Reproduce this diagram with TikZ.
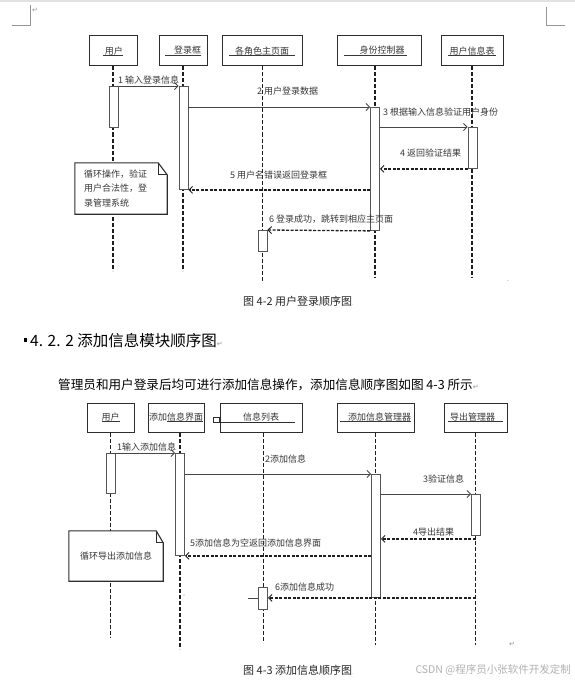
\documentclass[tikz,border=0pt]{standalone}
\usepackage{fontspec}
\setmainfont{Noto Sans CJK SC}
\newfontfamily\markfont{DejaVu Sans}
\usepackage{xcolor}
\definecolor{framegray}{RGB}{45, 45, 45}
\definecolor{bargray}{RGB}{85, 85, 85}
\definecolor{linedark}{RGB}{30, 30, 30}
\definecolor{msggray}{RGB}{70, 70, 70}
\definecolor{textgray}{RGB}{55, 55, 55}
\definecolor{bandgray}{RGB}{226, 226, 226}
\definecolor{markgray}{RGB}{150, 150, 150}
\definecolor{wmgray}{RGB}{178, 178, 178}
\usepackage{tikz}
\usetikzlibrary{arrows.meta, positioning, calc}

\newlength{\objwd}
\newcommand{\objul}[1]{\settowidth{\objwd}{#1}\rlap{#1}\rule[-1.6pt]{\objwd}{0.8pt}}
\newcommand{\parmark}{{\markfont\fontsize{7}{7}\selectfont\color{markgray}↵}}

\begin{document}
\begin{tikzpicture}[x=1pt, y=-1pt, >={Straight Barb[length=3.5pt, width=7pt, line width=0.9pt]},
    objbox/.style={draw=framegray, line width=1pt, fill=white, minimum height=30pt, inner sep=1pt, text=textgray, font=\fontsize{9}{11}\selectfont},
    actbar/.style={draw=bargray, line width=0.9pt, fill=white, minimum width=9pt, inner sep=0pt, anchor=north},
    lifeline/.style={draw=linedark, line width=1.5pt, dash pattern=on 4pt off 2pt},
    thinlife/.style={lifeline, line width=0.8pt},
    callmsg/.style={->, draw=msggray, line width=0.9pt},
    retmsg/.style={->, draw=linedark, line width=1.3pt, dash pattern=on 3pt off 1.5pt},
    msgtext/.style={anchor=west, inner sep=0pt, text=textgray, font=\fontsize{9}{11}\selectfont},
    notebox/.style={fill=white, inner sep=0pt, text=textgray, font=\fontsize{9}{14.5}\selectfont},
    noteedge/.style={draw=framegray, line width=1.1pt},
    captext/.style={anchor=west, inner sep=0pt, text=black!85, font=\fontsize{11}{13}\selectfont},
    marktext/.style={inner sep=0pt, text=markgray, font=\markfont\fontsize{7}{7}\selectfont}]
    \useasboundingbox (0,0) rectangle (575,682);
    \fill[white] (0,0) rectangle (575,682);

    % page edge and margin marks
    \fill[bandgray] (0,0) rectangle (575,2.5);
    \draw[markgray, line width=0.8pt] (12,25) -- (30,25) -- (30,5);
    \draw[markgray, line width=0.8pt] (546,7) -- (546,25) -- (565,25);
    \node[marktext] (pm0) at (35,10) {↵};

    % figure 4-2: objects
    \node[objbox, minimum width=48pt] (user1) at (113,51) {\objul{\,用户}};
    \node[objbox, minimum width=48pt] (login1) at (183,51) {\objul{\hspace*{9pt}登录框}};
    \node[objbox, minimum width=80pt] (page1) at (262,51) {\objul{\hspace*{6pt}各角色主页面\hspace*{6pt}}};
    \node[objbox, minimum width=84pt] (auth1) at (379,51) {\objul{\hspace*{16pt}身份控制器\hspace*{2pt}}\hspace*{8pt}};
    \node[objbox, minimum width=62pt] (table1) at (472,51) {\objul{\,用户信息表\,}};

    % lifelines
    \draw[lifeline] (user1.south) -- ++(0,204);
    \draw[lifeline] (login1.south) -- ++(0,204);
    \draw[thinlife] (page1.south) -- ++(0,214);
    \draw[lifeline] ([xshift=-4pt]auth1.south) -- ++(0,211);
    \draw[lifeline] (table1.south) -- ++(0,211);

    % note
    \node[notebox, minimum width=92pt, minimum height=51pt, text width=74pt, align=left] (note1) at (121,188.5)
        {循环操作，验证\\用户合法性，登\\录管理系统};
    \draw[noteedge] (note1.north west) -- ($(note1.north east)+(-9,0)$) -- ($(note1.north east)+(0,12)$)
        -- (note1.south east) -- (note1.south west) -- cycle;
    \draw[noteedge] ($(note1.north east)+(-9,0)$) |- ($(note1.north east)+(0,12)$);

    % activations
    \node[actbar, minimum height=41pt] (ua1) at (113.5,86) {};
    \node[actbar, minimum height=103pt] (la1) at (183.5,86) {};
    \node[actbar, minimum height=123pt] (ca1) at (375,107) {};
    \node[actbar, minimum height=41pt] (ta1) at (472.5,127) {};
    \node[actbar, minimum height=21pt] (ra1) at (262.5,230) {};

    % messages
    \draw[callmsg] (ua1.north) -- (la1.north west);
    \draw[callmsg] (la1.east |- ca1.north) -- (ca1.north west);
    \draw[callmsg] (ca1.east |- ta1.north) -- (ta1.north west);
    \draw[retmsg] (ta1.south west) -- (ca1.east |- ta1.south west);
    \draw[retmsg] (ca1.west |- la1.south) -- (la1.south east);
    \draw[retmsg] (ca1.south west) -- (ra1.north east);

    \node[msgtext] (m11) at (118,80) {1 输入登录信息};
    \node[msgtext] (m12) at (257,91) {2 用户登录数据};
    \node[msgtext] (m13) at (383,112) {3 根据输入信息验证用户身份};
    \node[msgtext] (m14) at (400,153) {4 返回验证结果};
    \node[msgtext] (m15) at (230,175) {5 用户名错误返回登录框};
    \node[msgtext] (m16) at (269,219) {6 登录成功，跳转到相应主页面};
    \node[marktext] (pm1) at (508,281) {.};

    \node[captext] (cap1) at (243,301) {图 4-2 用户登录顺序图{\markfont\tiny\color{markgray}.}};

    % section heading and text
    \fill[black] (24,338) rectangle (27,341.5);
    \node[anchor=west, inner sep=0pt, font=\fontsize{15.5}{18}\selectfont] (head) at (30,341)
        {4. 2. 2 添加信息模块顺序图\parmark};
    \node[anchor=west, inner sep=0pt, font=\fontsize{12.6}{15}\selectfont] (para) at (58,385)
        {管理员和用户登录后均可进行添加信息操作，添加信息顺序图如图 4-3 所示\parmark};

    % figure 4-3: objects
    \node[objbox, minimum width=47pt, minimum height=29pt] (user2) at (110.5,417.5) {\objul{用户}};
    \node[objbox, minimum width=56pt, minimum height=29pt, inner sep=0pt] (ui2) at (176,417.5) {添加\objul{信息界面}};
    \node[objbox, minimum width=82pt, minimum height=29pt] (list2) at (261,417.5) {信息列表};
    \draw[framegray, line width=0.8pt] ($(list2.west)+(-6,0)$) rectangle ($(list2.west)+(0,5)$);
    \draw[framegray, line width=0.8pt] ($(list2.west)+(-6,5)$) -- ++(81,0);
    \node[objbox, minimum width=77pt, minimum height=29pt, inner sep=0pt] (mgr2) at (375.5,417.5) {\objul{\hspace*{8pt}添加信息管理器}};
    \node[objbox, minimum width=63pt, minimum height=29pt] (exp2) at (475.5,417.5) {\objul{\hspace*{2pt}导出管理器\hspace*{8pt}}};

    % lifelines
    \draw[lifeline] (user2.south) -- ++(0,205);
    \draw[lifeline] ([xshift=4pt]ui2.south) -- ++(0,216);
    \draw[thinlife] ([xshift=2pt]list2.south) -- ++(0,210);
    \draw[lifeline] (mgr2.south) -- ++(0,212);
    \draw[lifeline] (exp2.south) -- ++(0,212);

    % note
    \node[notebox, minimum width=94pt, minimum height=50pt] (note2) at (116,556) {循环导出添加信息};
    \draw[noteedge] (note2.north west) -- ($(note2.north east)+(-7,0)$) -- ($(note2.north east)+(0,12)$)
        -- (note2.south east) -- (note2.south west) -- cycle;
    \draw[noteedge] ($(note2.north east)+(-7,0)$) |- ($(note2.north east)+(0,12)$);

    % activations
    \node[actbar, minimum height=40pt] (ub2) at (110.5,453) {};
    \node[actbar, minimum height=102pt] (ib2) at (180,453) {};
    \node[actbar, minimum height=123pt] (mb2) at (376,474) {};
    \node[actbar, minimum height=41pt] (eb2) at (476,494) {};
    \node[actbar, minimum height=22pt] (lb2) at (263,587) {};

    % messages
    \draw[callmsg] (ub2.north) -- (ib2.north west);
    \draw[callmsg] (ib2.east |- mb2.north) -- (mb2.north west);
    \draw[callmsg] (mb2.east |- eb2.north) -- (eb2.north west);
    \coordinate (r4) at ($(exp2.south |- eb2.south)+(0,3)$);
    \draw[retmsg] (r4) -- (mb2.east |- r4);
    \draw[retmsg] (mb2.west |- ib2.south) -- (ib2.south east);
    \draw[retmsg] (exp2.south |- mb2.south) -- (lb2.east |- mb2.south);
    \draw[callmsg, -] (lb2.west) -- ++(-10,0);

    \node[msgtext] (m21) at (117,447) {1输入添加信息};
    \node[msgtext] (m22) at (265,459) {2添加信息};
    \node[msgtext] (m23) at (423,479) {3验证信息};
    \node[msgtext] (m24) at (413,532) {4导出结果};
    \node[msgtext] (m25) at (190,543) {5添加信息为空返回添加信息界面};
    \node[msgtext] (m26) at (275,587) {6添加信息成功};
    \fill[markgray] (184,595) circle (0.6);
    \node[marktext] (pm2) at (512,644) {↵};

    \node[captext] (cap2) at (243,670) {图 4-3 添加信息顺序图{\markfont\tiny\color{markgray}.}};
    \node[anchor=east, inner sep=0pt, text=wmgray, font=\fontsize{10.5}{12}\selectfont] (wm) at (571,670)
        {CSDN @程序员小张软件开发定制};
\end{tikzpicture}
\end{document}
